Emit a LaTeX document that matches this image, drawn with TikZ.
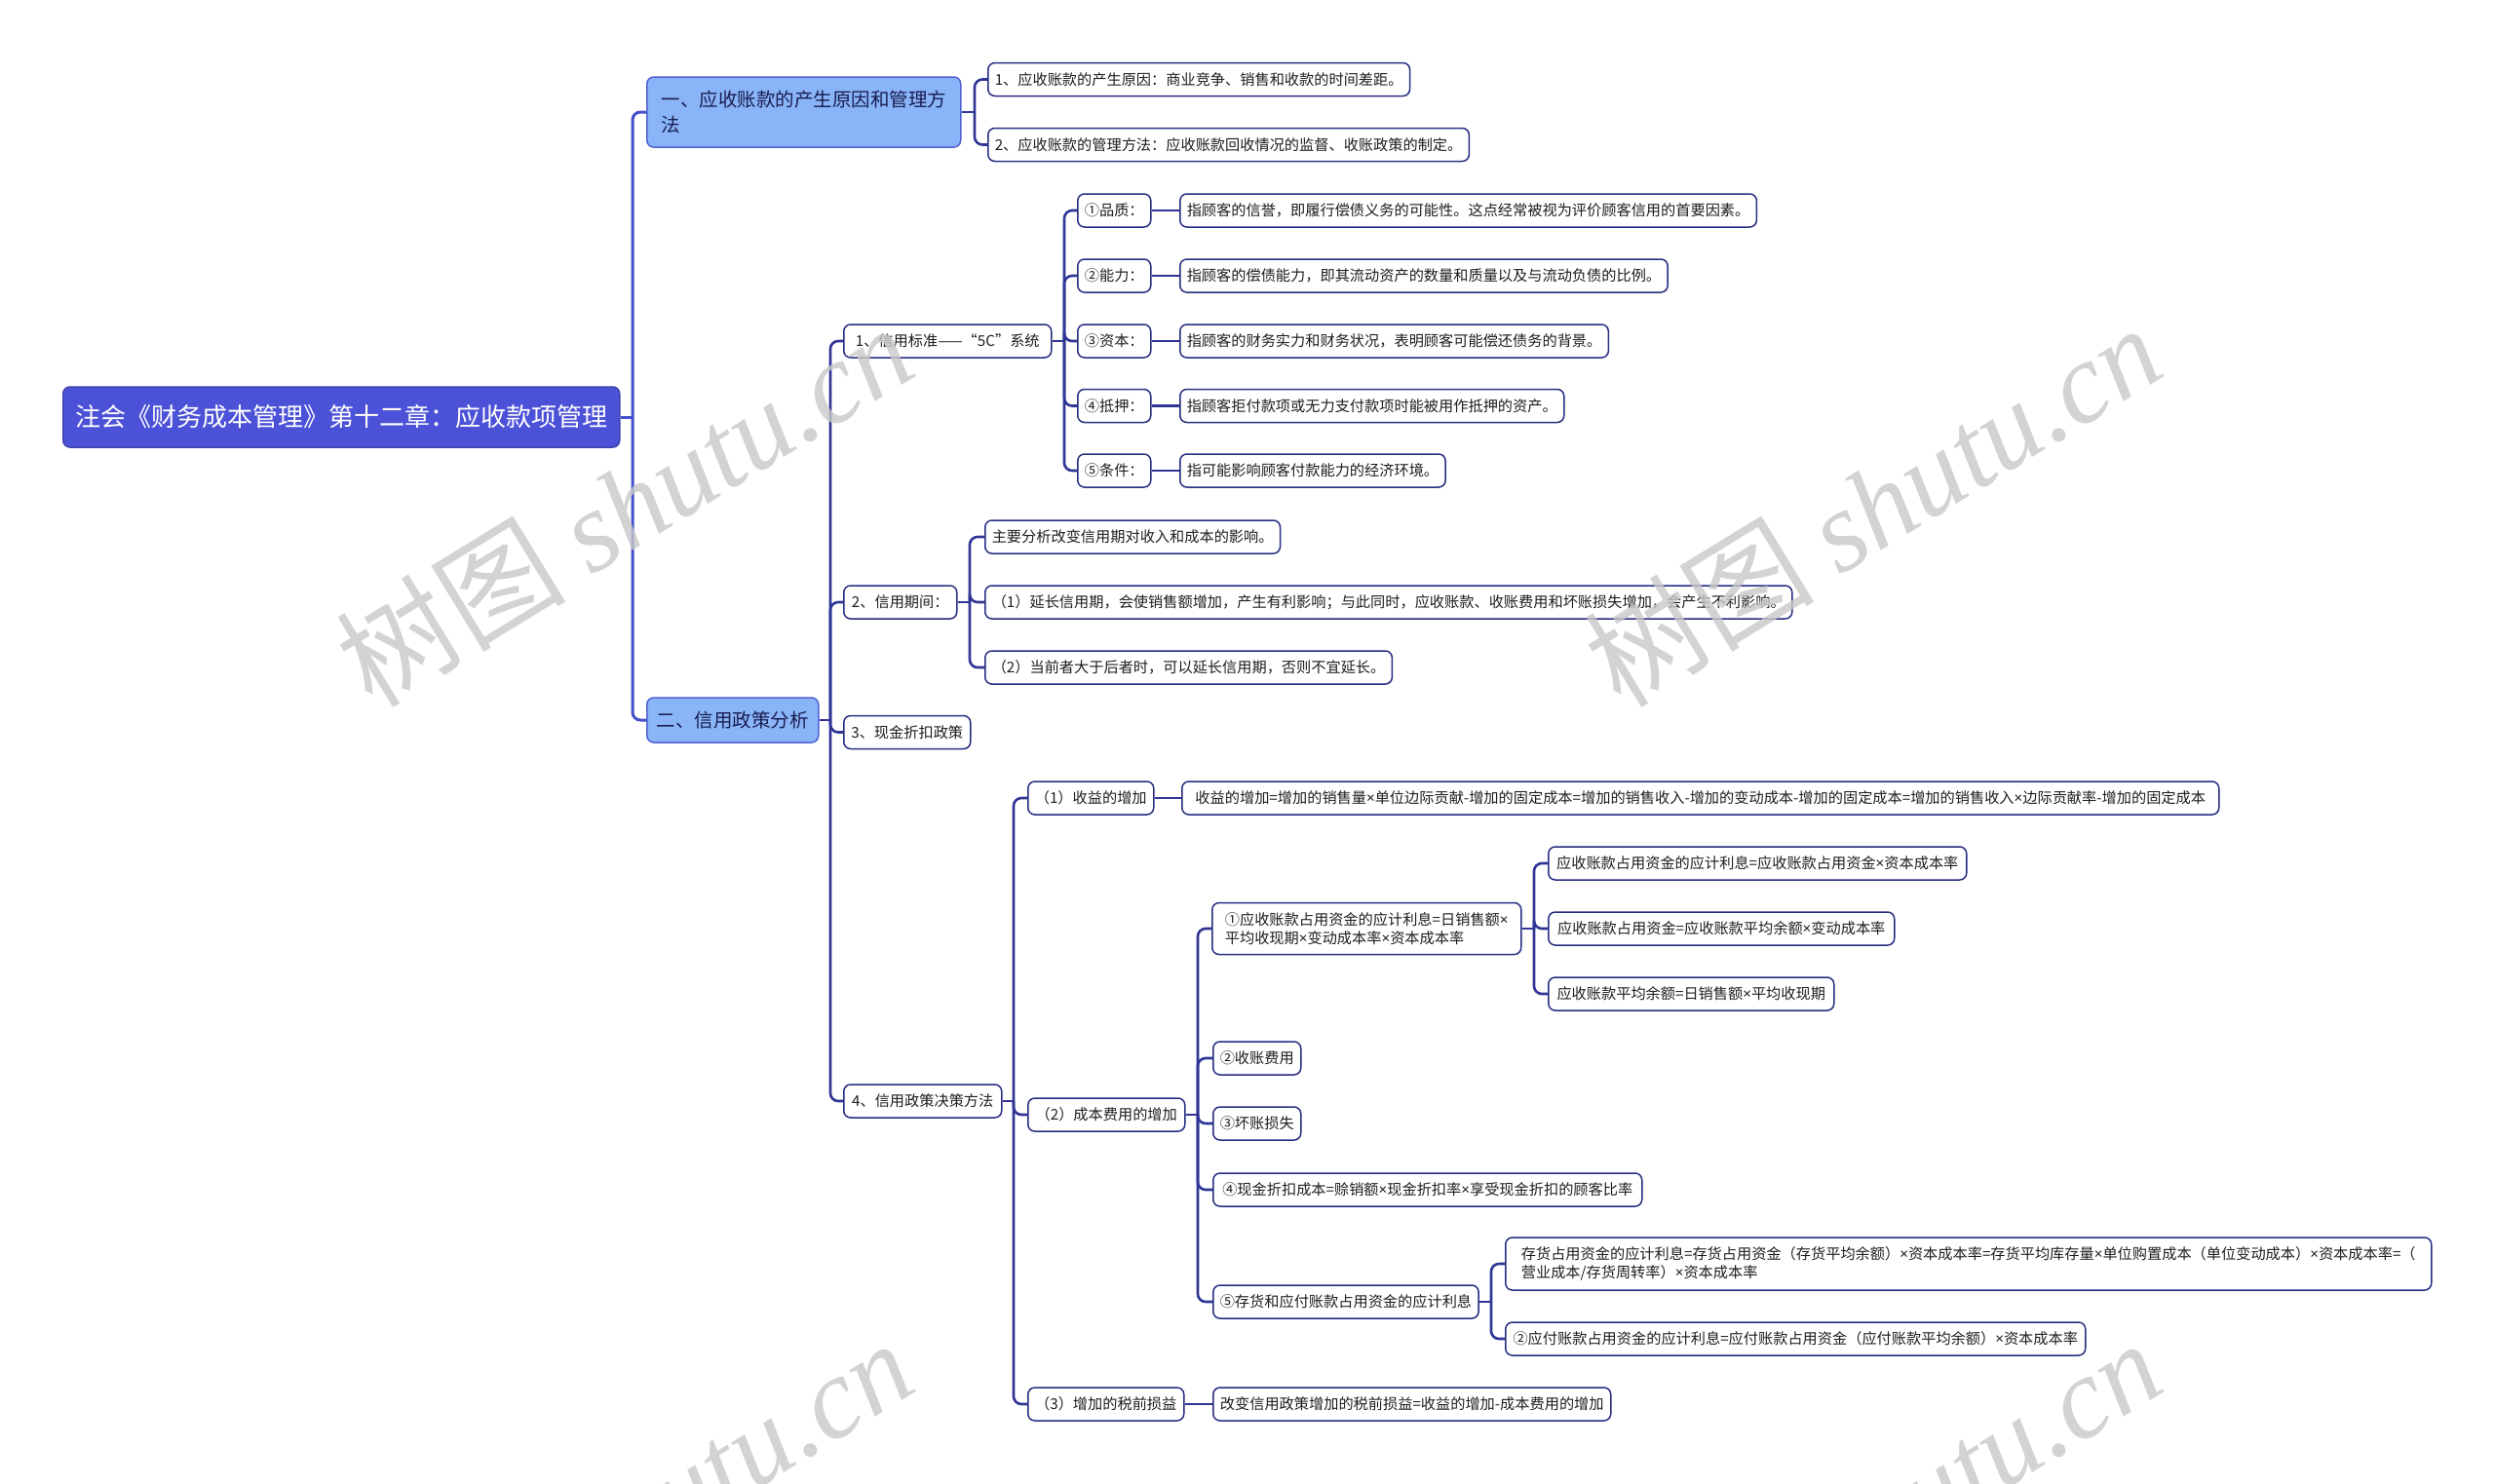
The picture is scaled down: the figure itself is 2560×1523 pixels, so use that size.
\documentclass[tikz,border=0pt]{standalone}
\usepackage{fontspec}
\setmainfont{Noto Sans CJK SC}
\newfontfamily\wmcjk{Noto Sans CJK SC}
\newfontfamily\wmlat{Liberation Serif}
\newfontfamily\latinf{Noto Sans}
\newcommand\tms{{\latinf ×}}
\definecolor{rootfill}{RGB}{76,82,216}
\definecolor{lonefill}{RGB}{138,180,248}
\definecolor{loneborder}{RGB}{82,98,212}
\definecolor{boxborder}{RGB}{40,46,130}
\definecolor{lineroot}{RGB}{70,80,200}
\definecolor{linesub}{RGB}{48,54,150}
\definecolor{txt}{RGB}{30,30,30}
\definecolor{wmgray}{RGB}{200,200,200}
\tikzset{
  basebox/.style={draw, rounded corners=7, anchor=west, inner xsep=7, inner ysep=0, line width=1.5},
  rootbox/.style={basebox, inner xsep=12, fill=rootfill, draw=rootfill!80!black, text=white, font=\fontsize{26}{32}\selectfont, minimum height=62},
  lonebox/.style={basebox, inner xsep=10, fill=lonefill, draw=loneborder, text={rgb,255:red,25;green,30;blue,80}, font=\fontsize{19.5}{26}\selectfont},
  leaf/.style={basebox, fill=white, draw=boxborder, text=txt, font=\fontsize{15.2}{19}\selectfont, minimum height=34},
  conn/.style={line width=2.6, draw=linesub, rounded corners=8},
  connroot/.style={conn, line width=3, draw=lineroot},
  wmark/.style={text=wmgray, opacity=0.8, rotate=31.5, inner sep=0, font=\fontsize{118}{130}\selectfont}
}
\begin{document}
\begin{tikzpicture}[x=1pt, y=-1pt]
\useasboundingbox (0,0) rectangle (2560,1523);
\fill[white] (0,0) rectangle (2560,1523);

% root and level one
\node[rootbox, minimum width=571] (root) at (64,428) {注会《财务成本管理》第十二章：应收款项管理};
\node[lonebox, minimum width=322, minimum height=72, align=left] (A) at (663,115) {一、应收账款的产生原因和管理方\\法};
\node[lonebox, minimum width=175, minimum height=46] (B) at (663,739) {二、信用政策分析};

% under A
\node[leaf, minimum width=432] (A1) at (1013,81.5) {1、应收账款的产生原因：商业竞争、销售和收款的时间差距。};
\node[leaf, minimum width=492] (A2) at (1013,148.5) {2、应收账款的管理方法：应收账款回收情况的监督、收账政策的制定。};

% under B
\node[leaf, minimum width=213] (B1) at (865,350) {1、信用标准——“5C”系统};
\node[leaf, minimum width=116] (B2) at (865,618) {2、信用期间：};
\node[leaf, minimum width=130] (B3) at (865,751.5) {3、现金折扣政策};
\node[leaf, minimum width=162] (B4) at (865,1130) {4、信用政策决策方法};

% 5C
\node[leaf, minimum width=75] (c1) at (1105,216) {①品质：};
\node[leaf, minimum width=75] (c2) at (1105,283) {②能力：};
\node[leaf, minimum width=75] (c3) at (1105,350) {③资本：};
\node[leaf, minimum width=75] (c4) at (1105,416.5) {④抵押：};
\node[leaf, minimum width=75] (c5) at (1105,483) {⑤条件：};
\node[leaf, minimum width=589] (d1) at (1210,216) {指顾客的信誉，即履行偿债义务的可能性。这点经常被视为评价顾客信用的首要因素。};
\node[leaf, minimum width=498] (d2) at (1210,283) {指顾客的偿债能力，即其流动资产的数量和质量以及与流动负债的比例。};
\node[leaf, minimum width=437] (d3) at (1210,350) {指顾客的财务实力和财务状况，表明顾客可能偿还债务的背景。};
\node[leaf, minimum width=393] (d4) at (1210,416.5) {指顾客拒付款项或无力支付款项时能被用作抵押的资产。};
\node[leaf, minimum width=270] (d5) at (1210,483) {指可能影响顾客付款能力的经济环境。};

% credit period
\node[leaf, minimum width=301] (p1) at (1010,551) {主要分析改变信用期对收入和成本的影响。};
\node[leaf, minimum width=824] (p2) at (1010,618) {（1）延长信用期，会使销售额增加，产生有利影响；与此同时，应收账款、收账费用和坏账损失增加，会产生不利影响。};
\node[leaf, minimum width=415] (p3) at (1010,685) {（2）当前者大于后者时，可以延长信用期，否则不宜延长。};

% decision methods
\node[leaf, minimum width=129] (C1) at (1054,819) {（1）收益的增加};
\node[leaf, minimum width=1064] (C1d) at (1212,819) {收益的增加=增加的销售量\tms 单位边际贡献-增加的固定成本=增加的销售收入-增加的变动成本-增加的固定成本=增加的销售收入\tms 边际贡献率-增加的固定成本};
\node[leaf, minimum width=161] (C2) at (1054,1144) {（2）成本费用的增加};
\node[leaf, minimum width=160] (C3) at (1054,1441) {（3）增加的税前损益};
\node[leaf, minimum width=408] (C3d) at (1244,1441) {改变信用政策增加的税前损益=收益的增加-成本费用的增加};

\node[leaf, minimum width=317, minimum height=53, align=left] (D1) at (1243,953) {①应收账款占用资金的应计利息=日销售额\tms\\平均收现期\tms 变动成本率\tms 资本成本率};
\node[leaf, minimum width=87] (D2) at (1244,1086) {②收账费用};
\node[leaf, minimum width=89] (D3) at (1244,1153) {③坏账损失};
\node[leaf, minimum width=440] (D4) at (1244,1221) {④现金折扣成本=赊销额\tms 现金折扣率\tms 享受现金折扣的顾客比率};
\node[leaf, minimum width=270] (D5) at (1244,1336) {⑤存货和应付账款占用资金的应计利息};

\node[leaf, minimum width=429] (E1) at (1588,886) {应收账款占用资金的应计利息=应收账款占用资金\tms 资本成本率};
\node[leaf, minimum width=355] (E2) at (1588,953) {应收账款占用资金=应收账款平均余额\tms 变动成本率};
\node[leaf, minimum width=293] (E3) at (1588,1020) {应收账款平均余额=日销售额\tms 平均收现期};

\node[leaf, minimum width=950, minimum height=54, align=left] (F1) at (1544,1297) {存货占用资金的应计利息=存货占用资金（存货平均余额）\tms 资本成本率=存货平均库存量\tms 单位购置成本（单位变动成本）\tms 资本成本率=（\\营业成本/存货周转率）\tms 资本成本率};
\node[leaf, minimum width=595] (F2) at (1544,1374) {②应付账款占用资金的应计利息=应付账款占用资金（应付账款平均余额）\tms 资本成本率};

% junction coordinates
\coordinate (jroot) at (649,428);
\coordinate (jA) at (1000,115);
\coordinate (jB) at (852,739);
\coordinate (jB1) at (1092,350);
\coordinate (jB2) at (995,618);
\coordinate (jB4) at (1040,1130);
\coordinate (jC2) at (1229,1144);
\coordinate (jD1) at (1574,953);
\coordinate (jD5) at (1530,1336);

% connectors
\draw[connroot] (root.east) -- (jroot);
\draw[connroot] (jroot) |- (A.west);
\draw[connroot] (jroot) |- (B.west);

\draw[conn] (A.east) -- (jA);
\draw[conn] (jA) |- (A1.west);
\draw[conn] (jA) |- (A2.west);

\draw[conn] (B.east) -- (jB);
\foreach \n in {B1,B2,B3,B4} \draw[conn] (jB) |- (\n.west);

\draw[conn] (B1.east) -- (jB1);
\foreach \n in {c1,c2,c3,c4,c5} \draw[conn] (jB1) |- (\n.west);
\draw[conn] (c1.east) -- (d1.west);
\draw[conn] (c2.east) -- (d2.west);
\draw[conn] (c3.east) -- (d3.west);
\draw[conn] (c4.east) -- (d4.west);
\draw[conn] (c5.east) -- (d5.west);

\draw[conn] (B2.east) -- (jB2);
\foreach \n in {p1,p2,p3} \draw[conn] (jB2) |- (\n.west);

\draw[conn] (B4.east) -- (jB4);
\foreach \n in {C1,C2,C3} \draw[conn] (jB4) |- (\n.west);
\draw[conn] (C1.east) -- (C1d.west);
\draw[conn] (C3.east) -- (C3d.west);

\draw[conn] (C2.east) -- (jC2);
\foreach \n in {D1,D2,D3,D4,D5} \draw[conn] (jC2) |- (\n.west);

\draw[conn] (D1.east) -- (jD1);
\foreach \n in {E1,E2,E3} \draw[conn] (jD1) |- (\n.west);

\draw[conn] (D5.east) -- (jD5);
\foreach \n in {F1,F2} \draw[conn] (jD5) |- (\n.west);

% watermarks
\begin{scope}
\clip (0,0) rectangle (2560,1523);
\node[wmark] (wm1) at (640,518) {{\wmcjk 树图} {\wmlat\itshape shutu.cn}};
\node[wmark] (wm2) at (1921,518) {{\wmcjk 树图} {\wmlat\itshape shutu.cn}};
\node[wmark] (wm3) at (640,1560) {{\wmcjk 树图} {\wmlat\itshape shutu.cn}};
\node[wmark] (wm4) at (1921,1560) {{\wmcjk 树图} {\wmlat\itshape shutu.cn}};
\end{scope}
\end{tikzpicture}
\end{document}
